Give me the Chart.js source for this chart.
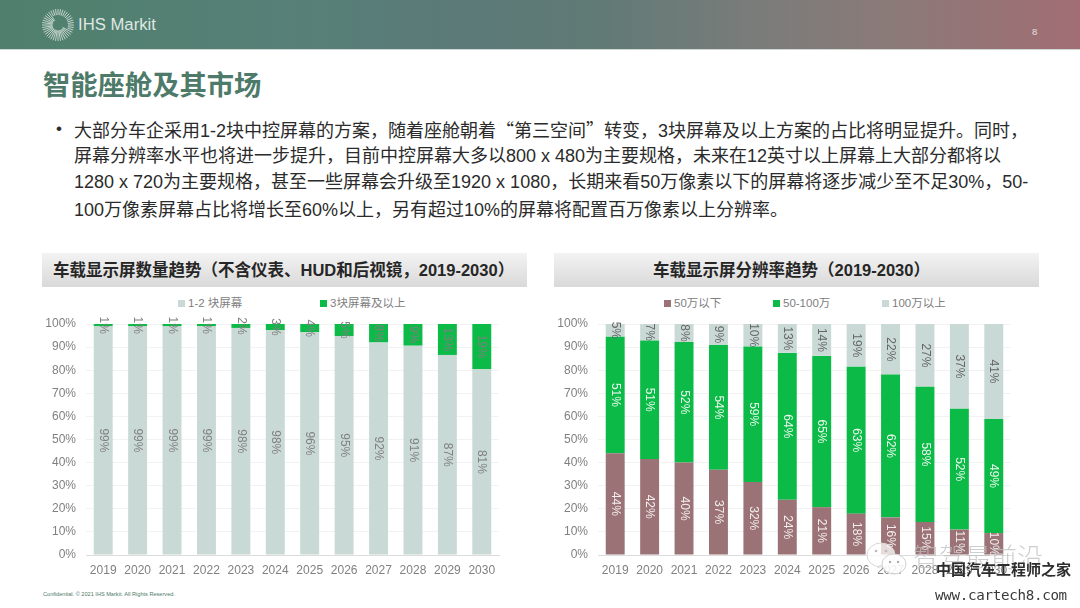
<!DOCTYPE html>
<html lang="zh"><head><meta charset="utf-8">
<script src="https://cdn.jsdelivr.net/npm/chart.js@4"></script>
<style>
html,body{margin:0;padding:0;background:#fff;}
#page{position:relative;width:1080px;height:608px;overflow:hidden;font-family:"Liberation Sans","Noto Sans CJK SC",sans-serif;background:#fff;filter:blur(.3px);}
#page>*{position:absolute;}
.abs{position:absolute;white-space:nowrap;}
#banner{left:0;top:0;width:1080px;height:49px;background:linear-gradient(90deg,#4f806c 0%,#568077 25%,#5b7a78 42%,#607a76 55%,#7a7c7a 70%,#8a7a78 82%,#9c7074 96%,#a06e74 100%);border-bottom:1px solid #cfd8d4;}
#title{left:43px;top:64px;font:700 27.3px/38px "Noto Sans CJK SC",sans-serif;color:#4d7a69;white-space:nowrap;}
.line{left:74px;font:400 18px/24px "Liberation Sans","Noto Sans CJK SC",sans-serif;color:#2b2b2b;white-space:nowrap;}
.line b{font:400 18px/24px "Noto Sans CJK SC",sans-serif;}
#bullet{left:56px;top:117px;font:400 17px/24px "Liberation Sans",sans-serif;color:#2b2b2b;}
.head{top:253px;height:34px;background:linear-gradient(180deg,#f3f3f3 0%,#d9d9d9 100%);font:700 16.5px/34px "Liberation Sans","Noto Sans CJK SC",sans-serif;color:#262626;white-space:nowrap;}
.leg{top:296px;font:400 11.5px/15px "Liberation Sans","Noto Sans CJK SC",sans-serif;color:#808080;white-space:nowrap;}
.leg i{display:inline-block;width:7px;height:7px;margin-right:3px;vertical-align:0;}
canvas{display:block;}
</style></head><body>
<div id="page">
<div id="banner"></div>
<svg id="logo" style="left:41px;top:8px" width="34" height="34" viewBox="0 0 34 34"></svg>
<div class="abs" style="left:78px;top:14px;font:400 16.7px/22px 'Liberation Sans',sans-serif;color:#dfe8e3">IHS Markit</div>
<div class="abs" style="left:1032px;top:26px;font:400 9.5px/12px 'Liberation Sans',sans-serif;color:#e8e0e0">8</div>
<div id="title">智能座舱及其市场</div>
<div id="bullet">•</div>
<div class="line" style="top:117px">大部分车企采用1-2块中控屏幕的方案，随着座舱朝着<b>“</b>第三空间<b>”</b>转变，3块屏幕及以上方案的占比将明显提升。同时，</div>
<div class="line" style="top:144px">屏幕分辨率水平也将进一步提升，目前中控屏幕大多以800 x 480为主要规格，未来在12英寸以上屏幕上大部分都将以</div>
<div class="line" style="top:170px">1280 x 720为主要规格，甚至一些屏幕会升级至1920 x 1080，长期来看50万像素以下的屏幕将逐步减少至不足30%，50-</div>
<div class="line" style="top:198px">100万像素屏幕占比将增长至60%以上，另有超过10%的屏幕将配置百万像素以上分辨率。</div>
<div class="head" style="left:42px;width:485px;padding-left:11px;box-sizing:border-box">车载显示屏数量趋势（不含仪表、HUD和后视镜，2019-2030）</div>
<div class="head" style="left:554px;width:485px;padding-right:10px;box-sizing:border-box;text-align:center">车载显示屏分辨率趋势（2019-2030）</div>
<div class="leg" id="legA0" style="left:178px"></div>
<div class="leg" id="legA1" style="left:320px"></div>
<div class="leg" id="legB0" style="left:664px"></div>
<div class="leg" id="legB1" style="left:773px"></div>
<div class="leg" id="legB2" style="left:882px"></div>
<div style="left:40px;top:292px;width:490px;height:290px"><canvas id="chartA" width="490" height="290"></canvas></div>
<div style="left:552px;top:292px;width:490px;height:290px"><canvas id="chartB" width="490" height="290"></canvas></div>
<div class="abs" style="left:43px;top:590px;font:400 5.6px/8px 'Liberation Sans',sans-serif;color:#4d7a69">Confidential. © 2021 IHS Markit. All Rights Reserved.</div>
<svg style="left:866px;top:540px" width="44" height="40" viewBox="0 0 44 40"><ellipse cx="15" cy="15" rx="14" ry="12" fill="#fff" fill-opacity=".75" stroke="#d8d8d8"/><ellipse cx="28" cy="24" rx="12" ry="10" fill="#fff" fill-opacity=".85" stroke="#cfcfcf"/><circle cx="10" cy="11" r="1.3" fill="#bbb"/><circle cx="20" cy="11" r="1.3" fill="#bbb"/><circle cx="24" cy="22" r="1.2" fill="#aaa"/><circle cx="32" cy="22" r="1.2" fill="#aaa"/></svg>
<div class="abs" style="left:913px;top:541px;font:300 26px/30px 'Noto Sans CJK SC',sans-serif;color:rgba(190,190,190,.75)">智驾最前沿</div>
<div class="abs" style="left:936px;top:558px;font:700 15px/22px 'Noto Sans CJK SC',sans-serif;color:#2c2c2c">中国汽车工程师之家</div>
<div class="abs" style="left:935px;top:586px;font:400 14.2px/18px 'DejaVu Sans Mono',monospace;color:#3a3a3a;letter-spacing:-.3px">www.cartech8.com</div>
</div>
<script>
const years = ['2019','2020','2021','2022','2023','2024','2025','2026','2027','2028','2029','2030'];
const countLabels = ['1-2 块屏幕','3块屏幕及以上'];
const countLow  = [99,99,99,99,98.3,97.4,96.4,94.8,92,90.6,86.6,80.4];
const countHigh = [1,1,1,1,1.7,2.6,3.6,5.2,8,9.4,13.4,19.6];
const countLowText  = ['99%','99%','99%','99%','98%','98%','96%','95%','92%','91%','87%','81%'];
const countHighText = ['1%','1%','1%','1%','2%','3%','4%','5%','8%','9%','13%','19%'];
const resLabels = ['50万以下','50-100万','100万以上'];
const resLow  = [44.1,41.6,40,36.9,31.6,23.9,20.7,17.9,16.3,14.3,11,9.5];
const resMid  = [50.4,51.3,52.2,54,58.7,63.6,65.5,63.6,61.8,58.5,52.3,49.4];
const resHigh = [5.5,7.1,7.8,9.1,9.7,12.5,13.8,18.5,21.9,27.2,36.7,41.1];
const resLowText  = ['44%','42%','40%','37%','32%','24%','21%','18%','16%','15%','11%','10%'];
const resMidText  = ['51%','51%','52%','54%','59%','64%','65%','63%','62%','58%','52%','49%'];
const resHighText = ['5%','7%','8%','9%','10%','13%','14%','19%','22%','27%','37%','41%'];
const GREY='#c9d9d6', GREEN='#0bba47', MAUVE='#9b7376', TICK='#808080';

const rotatedLabels = {
  id:'rotatedLabels',
  afterDatasetsDraw(chart){
    const ctx=chart.ctx;
    chart.data.datasets.forEach((ds,i)=>{
      chart.getDatasetMeta(i).data.forEach((bar,j)=>{
        const c=bar.getCenterPoint();
        ctx.save();
        ctx.translate(c.x,c.y);
        ctx.rotate(Math.PI/2);
        ctx.font='400 12px "Liberation Sans",sans-serif';
        ctx.fillStyle=ds.textColor;
        ctx.textAlign='center';ctx.textBaseline='middle';
        ctx.fillText(ds.texts[j],0,0);
        ctx.restore();
      });
    });
  }
};
function makeChart(id,datasets){
  return new Chart(document.getElementById(id),{
    type:'bar',
    data:{labels:years,datasets:datasets.map(d=>Object.assign({barPercentage:0.55,categoryPercentage:1,borderWidth:0},d))},
    plugins:[rotatedLabels],
    options:{
      responsive:false,animation:false,devicePixelRatio:1,
      layout:{padding:{left:0,right:31,top:32,bottom:0}},
      plugins:{legend:{display:false},tooltip:{enabled:false}},
      scales:{
        x:{stacked:true,offset:true,
           grid:{display:false,drawTicks:false},
           border:{color:'#dcdcdc',width:1},
           ticks:{color:TICK,font:{size:12,family:'"Liberation Sans",sans-serif'},padding:8,maxRotation:0,autoSkip:false},
           afterFit(s){s.height=27;}},
        y:{stacked:true,min:0,max:100,
           grid:{color:'#f2f2f2',lineWidth:1,drawTicks:false},
           border:{display:false},
           ticks:{stepSize:10,color:TICK,padding:10,font:{size:12,family:'"Liberation Sans",sans-serif'},callback:v=>v+'%'},
           afterFit(s){s.width=46;}}
      }
    }
  });
}
makeChart('chartA',[
  {label:countLabels[0],data:countLow,backgroundColor:GREY,texts:countLowText,textColor:'#808080'},
  {label:countLabels[1],data:countHigh,backgroundColor:GREEN,texts:countHighText,textColor:'#808080'}
]);
makeChart('chartB',[
  {label:resLabels[0],data:resLow,backgroundColor:MAUVE,texts:resLowText,textColor:'#f4eeee'},
  {label:resLabels[1],data:resMid,backgroundColor:GREEN,texts:resMidText,textColor:'#eefaf1'},
  {label:resLabels[2],data:resHigh,backgroundColor:GREY,texts:resHighText,textColor:'#666666'}
]);
function leg(id,text,col){const e=document.getElementById(id);const b=document.createElement('i');b.style.background=col;e.appendChild(b);e.appendChild(document.createTextNode(text));}
leg('legA0',countLabels[0],GREY);leg('legA1',countLabels[1],GREEN);
leg('legB0',resLabels[0],MAUVE);leg('legB1',resLabels[1],GREEN);leg('legB2',resLabels[2],GREY);
// logo sunburst
(function(){
  const svg=document.getElementById('logo');let s='';
  for(let k=0;k<40;k++){
    const a=k/40*Math.PI*2;
    const inner=(Math.cos(a+0.8)>0.3)?10:5.5, outer=16;
    const cx=17, cy=17;
    s+=`<line x1="${(cx+Math.cos(a)*inner).toFixed(1)}" y1="${(cy+Math.sin(a)*inner).toFixed(1)}" x2="${(cx+Math.cos(a)*outer).toFixed(1)}" y2="${(cy+Math.sin(a)*outer).toFixed(1)}" stroke="#dfe9e3" stroke-width="0.8"/>`;
  }
  svg.innerHTML=s;
})();
</script>
</body></html>
